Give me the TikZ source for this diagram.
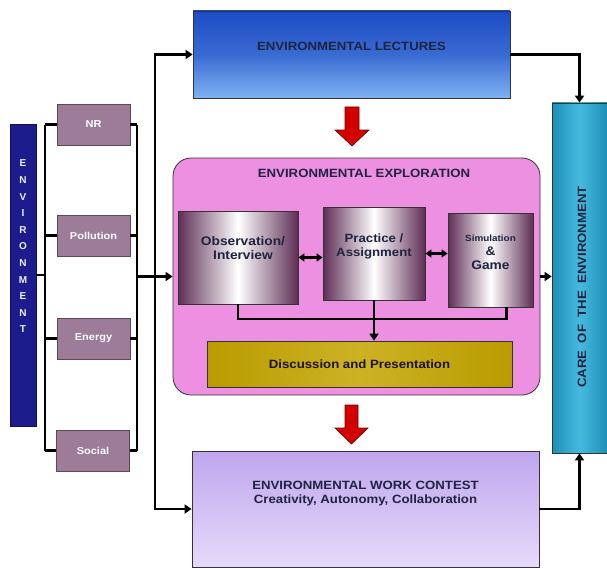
\documentclass[tikz,border=0pt]{standalone}
\usepackage{fontspec}
\setmainfont[FakeStretch=1.1]{Liberation Sans}
\newfontfamily\plainsans{Liberation Sans}
\usetikzlibrary{arrows.meta,calc}
\definecolor{navy}{HTML}{1C1C8C}
\definecolor{mauve}{HTML}{9C7C98}
\definecolor{mauveb}{HTML}{5A4A58}
\definecolor{pinkbg}{HTML}{EE90E2}
\definecolor{plum}{HTML}{5E2E55}
\definecolor{gold}{HTML}{B89C00}
\definecolor{goldl}{HTML}{CDB224}
\definecolor{teal1}{HTML}{1E8FB8}
\definecolor{teal2}{HTML}{45BADE}
\definecolor{blue1}{HTML}{1C4CC4}
\definecolor{blue2}{HTML}{7EB2F2}
\definecolor{lav1}{HTML}{BFA6EE}
\definecolor{lav2}{HTML}{E6DAFA}
\definecolor{txtdark}{HTML}{1E2440}
\definecolor{redarr}{HTML}{D40000}
\tikzset{
  box/.style={draw=black!80, line width=0.8pt, inner sep=2pt, align=center, font=\bfseries},
  leftbox/.style={box, fill=mauve, draw=mauveb, minimum width=73pt, minimum height=41pt, text=white, font=\bfseries\fontsize{10}{11}\selectfont},
  inner/.style={box, left color=plum, right color=plum, middle color=white},
  innertxt/.style={text=txtdark, align=center, inner sep=0pt, font=\bfseries\fontsize{12}{14}\selectfont},
  bigtxt/.style={text=txtdark, align=center, font=\bfseries\fontsize{12}{14}\selectfont},
  line/.style={line width=2.6pt, black},
  arr/.style={line, -{Triangle[length=7pt,width=9pt]}},
  darr/.style={line, {Triangle[length=6pt,width=8pt]}-{Triangle[length=6pt,width=8pt]}},
  redarrow/.style={fill=redarr, draw=red!40!black, line width=0.6pt}
}
\begin{document}
\begin{tikzpicture}[x=1pt,y=-1pt]
\useasboundingbox (0,0) rectangle (607,567);
% left column
\node[box, fill=navy, draw=navy!60!black, minimum width=26pt, minimum height=302pt] (env) at (23,275) {};
\node[text=blue!6!white, align=center, inner sep=0pt, font=\plainsans\bfseries\fontsize{10}{16.6}\selectfont] (envt) at (23,246.5) {E\\N\\V\\I\\R\\O\\N\\M\\E\\N\\T};
\node[leftbox] (nr) at (93.5,124.5) {NR};
\node[leftbox] (pol) at (93.5,235.5) {Pollution};
\node[leftbox] (ene) at (93.5,338.5) {Energy};
\node[leftbox] (soc) at (93,450.5) {Social};
% main boxes
\node[box, top color=blue1, bottom color=blue2, middle color=blue1!70!blue2, minimum width=317pt, minimum height=87pt] (lect) at (351.5,54.5) {};
\node[bigtxt] (lectt) at (351.5,46) {ENVIRONMENTAL LECTURES};
\node[box, fill=pinkbg, rounded corners=18pt, minimum width=367pt, minimum height=237pt] (expl) at (356.5,276.5) {};
\node[bigtxt] (explt) at (364,173) {ENVIRONMENTAL EXPLORATION};
\node[inner, minimum width=120pt, minimum height=93pt] (obs) at (238,257.5) {};
\node[innertxt, font=\bfseries\fontsize{12.5}{14.5}\selectfont] (obst) at (243,248) {Observation/\\Interview};
\node[inner, minimum width=102pt, minimum height=93pt] (prac) at (374,253.5) {};
\node[innertxt] (pract) at (374,246) {Practice /\\Assignment};
\node[inner, minimum width=85pt, minimum height=94pt] (sim) at (490.5,260) {};
\node[innertxt, font=\bfseries\fontsize{12.5}{14}\selectfont] (simt) at (490.5,252) {{\fontsize{9}{10}\selectfont Simulation}\\\&\\Game};
\node[box, left color=gold, right color=gold, middle color=goldl, minimum width=305pt, minimum height=46pt, text=black!85!brown, font=\bfseries\fontsize{12}{14}\selectfont] (disc) at (359.5,364) {Discussion and Presentation};
\node[box, left color=teal1, right color=teal1, middle color=teal2, minimum width=55pt, minimum height=350pt] (care) at (579.5,278) {};
\node[bigtxt, rotate=90] (caret) at (582,287) {CARE\ \ OF\ \ THE\ \ ENVIRONMENT};
\node[box, top color=lav1, bottom color=lav2, minimum width=347pt, minimum height=116pt] (work) at (365.5,509) {};
\node[bigtxt] (workt) at (365.5,494) {ENVIRONMENTAL WORK CONTEST\\Creativity, Autonomy, Collaboration};
% buses
\coordinate (lb) at (45,0);
\coordinate (rb) at (137,0);
\coordinate (vx) at (155,282);
\draw[line] (env.east) -- (env.east -| lb);
\draw[line] (nr.west -| lb) -- (soc.west -| lb);
\foreach \b in {nr,pol,ene,soc} {
  \draw[line] (\b.west -| lb) -- (\b.west);
  \draw[line] (\b.east) -- (\b.east -| rb);
}
\draw[line] (nr.east -| rb) -- (soc.east -| rb);
\draw[arr] (rb |- expl.west) -- (expl.west);
\draw[arr] (vx) |- (lect.west);
\draw[arr] (vx) |- (work.west);
\draw[arr] (lect.east) -| (care.north);
\draw[arr] (work.east) -| (care.south);
\draw[arr] (expl.east) -- (care.west |- expl.east);
% inner connections
\draw[darr] (obs.east) -- (obs.east -| prac.west);
\draw[darr] (prac.east) -- (prac.east -| sim.west);
\coordinate (by) at (0,319);
\draw[line] (obs.south) -- (obs.south |- by) -- ([xshift=16pt]sim.south |- by) -- ([xshift=16pt]sim.south);
\draw[arr] (prac.south) -- (prac.south |- disc.north);
% red arrows
\draw[redarrow] (345,107) -- (359,107) -- (359,130) -- (369,130) -- (352,146) -- (335,130) -- (345,130) -- cycle;
\draw[redarrow] (345,405) -- (358,405) -- (358,428) -- (368,428) -- (351.5,444) -- (335,428) -- (345,428) -- cycle;
\end{tikzpicture}
\end{document}
